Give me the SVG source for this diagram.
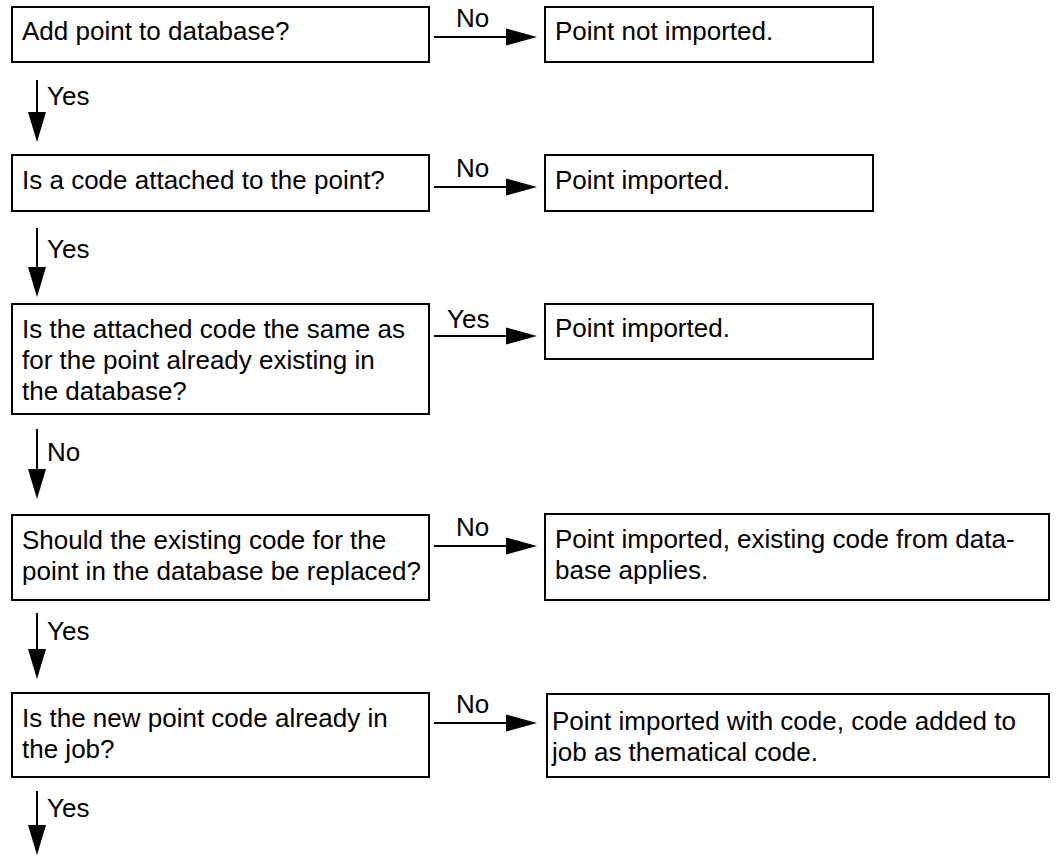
<svg xmlns="http://www.w3.org/2000/svg" width="1058" height="856" viewBox="0 0 1058 856">
<style>
  .box { fill: #ffffff; stroke: #000000; stroke-width: 2; }
  .t { font-family: "Liberation Sans", Arial, sans-serif; font-size: 26px; fill: #000000; }
  .ln { stroke: #000000; stroke-width: 2; fill: none; }
  .ah { fill: #000000; stroke: none; }
</style>
<rect width="1058" height="856" fill="#ffffff"/>
<g id="connectors">
  <line class="ln" x1="434" y1="37" x2="508" y2="37"/>
  <polygon class="ah" points="506,28.5 537,37 506,45.5"/>
  <text class="t" x="456" y="27">No</text>

  <line class="ln" x1="434" y1="187" x2="508" y2="187"/>
  <polygon class="ah" points="506,178.5 537,187 506,195.5"/>
  <text class="t" x="456" y="177">No</text>

  <line class="ln" x1="434" y1="336" x2="508" y2="336"/>
  <polygon class="ah" points="506,327.5 537,336 506,344.5"/>
  <text class="t" x="447" y="328">Yes</text>

  <line class="ln" x1="434" y1="546" x2="508" y2="546"/>
  <polygon class="ah" points="506,537.5 537,546 506,554.5"/>
  <text class="t" x="456" y="536">No</text>

  <line class="ln" x1="434" y1="723" x2="508" y2="723"/>
  <polygon class="ah" points="506,714.5 537,723 506,731.5"/>
  <text class="t" x="456" y="713">No</text>

  <line class="ln" x1="37" y1="80" x2="37" y2="114"/>
  <polygon class="ah" points="28,112 46,112 37,142"/>
  <text class="t" x="47" y="105">Yes</text>

  <line class="ln" x1="37" y1="228" x2="37" y2="269"/>
  <polygon class="ah" points="28,267 46,267 37,297"/>
  <text class="t" x="47" y="258">Yes</text>

  <line class="ln" x1="37" y1="429" x2="37" y2="471"/>
  <polygon class="ah" points="28,469 46,469 37,499"/>
  <text class="t" x="47" y="461">No</text>

  <line class="ln" x1="37" y1="613" x2="37" y2="651"/>
  <polygon class="ah" points="28,649 46,649 37,679"/>
  <text class="t" x="47" y="640">Yes</text>

  <line class="ln" x1="37" y1="791" x2="37" y2="827"/>
  <polygon class="ah" points="28,825 46,825 37,855"/>
  <text class="t" x="47" y="817">Yes</text>
</g>
<g id="q1">
  <rect class="box" x="12" y="7" width="417" height="55"/>
  <text class="t" x="22" y="40">Add point to database?</text>
</g>
<g id="r1">
  <rect class="box" x="545" y="7" width="328" height="55"/>
  <text class="t" x="555" y="40">Point not imported.</text>
</g>
<g id="q2">
  <rect class="box" x="12" y="155" width="417" height="56"/>
  <text class="t" x="22" y="189">Is a code attached to the point?</text>
</g>
<g id="r2">
  <rect class="box" x="545" y="155" width="328" height="56"/>
  <text class="t" x="555" y="189">Point imported.</text>
</g>
<g id="q3">
  <rect class="box" x="12" y="304" width="417" height="110"/>
  <text class="t" x="22" y="338">Is the attached code the same as</text>
  <text class="t" x="22" y="369">for the point already existing in</text>
  <text class="t" x="22" y="400">the database?</text>
</g>
<g id="r3">
  <rect class="box" x="545" y="304" width="328" height="55"/>
  <text class="t" x="555" y="337">Point imported.</text>
</g>
<g id="q4">
  <rect class="box" x="12" y="515" width="417" height="85"/>
  <text class="t" x="22" y="549">Should the existing code for the</text>
  <text class="t" x="22" y="580">point in the database be replaced?</text>
</g>
<g id="r4">
  <rect class="box" x="545" y="514" width="504" height="86"/>
  <text class="t" x="555" y="548">Point imported, existing code from data-</text>
  <text class="t" x="555" y="579">base applies.</text>
</g>
<g id="q5">
  <rect class="box" x="12" y="693" width="417" height="84"/>
  <text class="t" x="22" y="727">Is the new point code already in</text>
  <text class="t" x="22" y="758">the job?</text>
</g>
<g id="r5">
  <rect class="box" x="547" y="694" width="502" height="83"/>
  <text class="t" x="552" y="730">Point imported with code, code added to</text>
  <text class="t" x="552" y="761">job as thematical code.</text>
</g>
</svg>
